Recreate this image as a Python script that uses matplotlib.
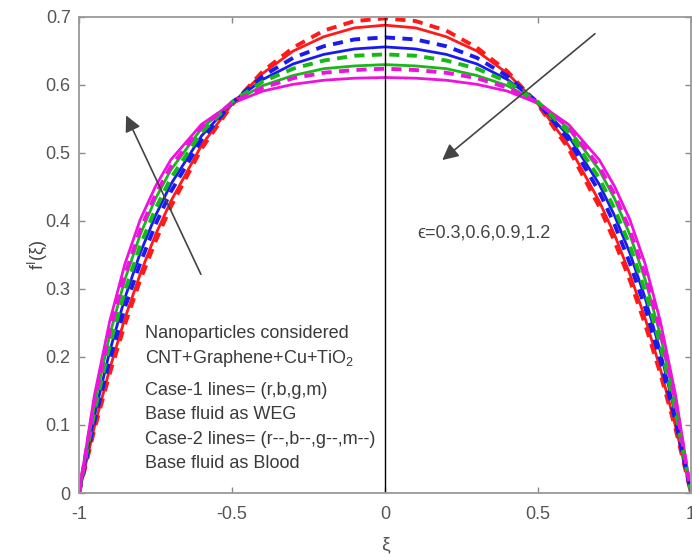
import matplotlib
matplotlib.use("Agg")
import matplotlib.pyplot as plt

plt.rcParams['font.family'] = ['Liberation Sans', 'DejaVu Sans']
plt.rcParams['mathtext.fontset'] = 'custom'
plt.rcParams['mathtext.rm'] = 'Liberation Sans'
plt.rcParams['mathtext.it'] = 'Liberation Sans:italic'

# sample positions across the channel
xi = [-1.0, -0.95, -0.9, -0.85, -0.8, -0.75, -0.7, -0.6, -0.5, -0.4, -0.3, -0.2, -0.1,
      0.0, 0.1, 0.2, 0.3, 0.4, 0.5, 0.6, 0.7, 0.75, 0.8, 0.85, 0.9, 0.95, 1.0]

# Case-1 (WEG), solid lines, eps = 0.3, 0.6, 0.9, 1.2
case1_r = [0.0, 0.097, 0.182, 0.257, 0.322, 0.380, 0.429, 0.511, 0.572, 0.617, 0.650, 0.671, 0.684,
           0.688, 0.684, 0.671, 0.650, 0.617, 0.572, 0.511, 0.429, 0.380, 0.322, 0.257, 0.182, 0.097, 0.0]
case1_b = [0.0, 0.113, 0.208, 0.287, 0.353, 0.408, 0.454, 0.525, 0.574, 0.608, 0.631, 0.645, 0.653,
           0.656, 0.653, 0.645, 0.631, 0.608, 0.574, 0.525, 0.454, 0.408, 0.353, 0.287, 0.208, 0.113, 0.0]
case1_g = [0.0, 0.129, 0.232, 0.314, 0.380, 0.433, 0.475, 0.536, 0.574, 0.599, 0.614, 0.624, 0.628,
           0.630, 0.628, 0.624, 0.614, 0.599, 0.574, 0.536, 0.475, 0.433, 0.380, 0.314, 0.232, 0.129, 0.0]
case1_m = [0.0, 0.143, 0.252, 0.337, 0.402, 0.451, 0.490, 0.542, 0.573, 0.591, 0.601, 0.607, 0.610,
           0.611, 0.610, 0.607, 0.601, 0.591, 0.573, 0.542, 0.490, 0.451, 0.402, 0.337, 0.252, 0.143, 0.0]

# Case-2 (Blood), dashed lines
case2_r = [0.0, 0.093, 0.175, 0.248, 0.313, 0.370, 0.421, 0.506, 0.571, 0.620, 0.655, 0.680, 0.694,
           0.698, 0.694, 0.680, 0.655, 0.620, 0.571, 0.506, 0.421, 0.370, 0.313, 0.248, 0.175, 0.093, 0.0]
case2_b = [0.0, 0.105, 0.195, 0.273, 0.338, 0.395, 0.443, 0.519, 0.574, 0.613, 0.640, 0.657, 0.667,
           0.670, 0.667, 0.657, 0.640, 0.613, 0.574, 0.519, 0.443, 0.395, 0.338, 0.273, 0.195, 0.105, 0.0]
case2_g = [0.0, 0.119, 0.217, 0.297, 0.364, 0.418, 0.463, 0.530, 0.575, 0.605, 0.624, 0.636, 0.643,
           0.645, 0.643, 0.636, 0.624, 0.605, 0.575, 0.530, 0.463, 0.418, 0.364, 0.297, 0.217, 0.119, 0.0]
case2_m = [0.0, 0.133, 0.238, 0.321, 0.387, 0.439, 0.480, 0.538, 0.574, 0.596, 0.610, 0.618, 0.622,
           0.624, 0.622, 0.618, 0.610, 0.596, 0.574, 0.538, 0.480, 0.439, 0.387, 0.321, 0.238, 0.133, 0.0]

colors = ['#ff1a1a', '#1a1af0', '#18b818', '#ee12dd']
case1 = [case1_r, case1_b, case1_g, case1_m]
case2 = [case2_r, case2_b, case2_g, case2_m]

fig = plt.figure(figsize=(6.92, 5.57), dpi=100)
ax = fig.add_axes([0.1142, 0.1149, 0.8844, 0.8546])

for ys, c in zip(case1, colors):
    ax.plot(xi, ys, color=c, lw=2.0)
for ys, c in zip(case2, colors):
    ax.plot(xi, ys, color=c, lw=2.8, dashes=(2.6, 1.9))

# centre line
ax.plot([0, 0], [0, 0.7], color='black', lw=1.0)

ax.set_xlim(-1, 1)
ax.set_ylim(0, 0.7)
ax.set_xticks([-1, -0.5, 0, 0.5, 1])
ax.set_xticklabels(['-1', '-0.5', '0', '0.5', '1'])
ax.set_yticks([0, 0.1, 0.2, 0.3, 0.4, 0.5, 0.6, 0.7])
ax.set_yticklabels(['0', '0.1', '0.2', '0.3', '0.4', '0.5', '0.6', '0.7'])
ax.tick_params(direction='in', top=True, right=True, length=4, width=1,
               color='#888888', labelcolor='#555555', labelsize=13)
ax.tick_params(axis='x', pad=9)
ax.tick_params(axis='y', pad=6)
for s in ax.spines.values():
    s.set_color('#999999')
    s.set_linewidth(1.3)

ax.set_xlabel('ξ', fontsize=14, color='#555555', labelpad=10)
ax.set_ylabel(r'f$^{\rm I}$(ξ)', fontsize=13, color='#444444', labelpad=-3)

arrow = dict(arrowstyle='-|>', color='#444444', lw=1.2, mutation_scale=24)
ax.annotate('', xy=(-0.85, 0.559), xytext=(-0.598, 0.318), arrowprops=arrow)
ax.annotate('', xy=(0.18, 0.487), xytext=(0.693, 0.678), arrowprops=arrow)

ax.text(0.105, 0.382, 'ϵ=0.3,0.6,0.9,1.2', fontsize=13, color='#444444', va='center')

notes = ['Nanoparticles considered', 'CNT+Graphene+Cu+TiO$_2$', 'Case-1 lines= (r,b,g,m)',
         'Base fluid as WEG', 'Case-2 lines= (r--,b--,g--,m--)', 'Base fluid as Blood']
note_y = [0.235, 0.198, 0.151, 0.115, 0.079, 0.044]
for t, y in zip(notes, note_y):
    ax.text(-0.784, y, t, fontsize=13, color='#3a3a3a', va='center')

fig.savefig('out.png', dpi=100)
